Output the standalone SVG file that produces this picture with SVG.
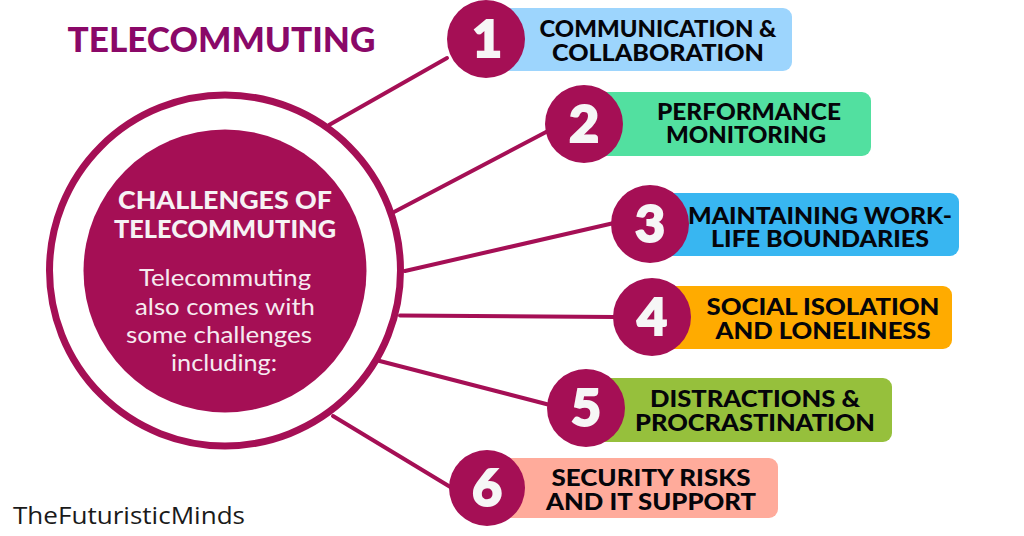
<svg xmlns="http://www.w3.org/2000/svg" width="1024" height="536" viewBox="0 0 1024 536">
<style>
text{font-family:"Lato","Open Sans","Liberation Sans",sans-serif;text-anchor:middle}
.n{fill:#a50f55}
.num{font-size:52px;font-weight:900;fill:#f6f6f6;stroke:#f6f6f6;stroke-width:2}
.b{font-size:23.5px;font-weight:900;fill:#05050a}
.c{fill:none;stroke:#a50f55;stroke-width:4;stroke-linecap:round}
.h{font-size:25px;font-weight:900;fill:#f6f2f4}
.p{font-size:24px;font-weight:400;fill:#f6eaf0}
</style>
<rect width="1024" height="536" fill="#fff"/>
<g id="connectors">
<line class="c" x1="329" y1="125" x2="447" y2="58"/>
<line class="c" x1="394" y1="212" x2="548" y2="131"/>
<line class="c" x1="405" y1="271" x2="614" y2="223"/>
<line class="c" x1="400" y1="315.500" x2="615" y2="317"/>
<line class="c" x1="372" y1="359" x2="550" y2="405"/>
<line class="c" x1="333" y1="416" x2="452" y2="488"/>
</g>
<g id="hub">
<circle cx="225" cy="270.500" r="175.500" fill="#fff" stroke="#a50f55" stroke-width="7"/>
<circle class="n" cx="225" cy="271" r="141.500"/>
<text class="h" x="225" y="209" textLength="214" lengthAdjust="spacingAndGlyphs">CHALLENGES OF</text>
<text class="h" x="225" y="238" textLength="222" lengthAdjust="spacingAndGlyphs">TELECOMMUTING</text>
<text class="p" x="225" y="286" textLength="172" lengthAdjust="spacingAndGlyphs">Telecommuting</text>
<text class="p" x="225" y="315" textLength="180" lengthAdjust="spacingAndGlyphs">also comes with</text>
<text class="p" x="219" y="343" textLength="186" lengthAdjust="spacingAndGlyphs">some challenges</text>
<text class="p" x="224" y="371" textLength="106" lengthAdjust="spacingAndGlyphs">including:</text>
</g>
<g id="title"><text x="221.500" y="52" font-size="35" font-weight="900" fill="#8a0868" textLength="308" lengthAdjust="spacingAndGlyphs">TELECOMMUTING</text></g>
<g id="brand"><text x="129" y="524" font-size="24" fill="#1a1a1a" style="font-family:'Open Sans',sans-serif" textLength="232" lengthAdjust="spacingAndGlyphs">TheFuturisticMinds</text></g>
<g id="node1">
<rect x="490" y="8" width="302" height="63" rx="9" fill="#9dd5fd"/>
<circle class="n" cx="486" cy="39" r="39"/>
<text class="num" x="487" y="57">1</text>
<text class="b" x="658" y="37" textLength="237" lengthAdjust="spacingAndGlyphs">COMMUNICATION &amp;</text>
<text class="b" x="658" y="61" textLength="212" lengthAdjust="spacingAndGlyphs">COLLABORATION</text>
</g>
<g id="node2">
<rect x="590" y="92" width="281" height="64" rx="9" fill="#52e0a0"/>
<circle class="n" cx="584" cy="124" r="39"/>
<text class="num" x="584" y="142">2</text>
<text class="b" x="749" y="120" textLength="184" lengthAdjust="spacingAndGlyphs">PERFORMANCE</text>
<text class="b" x="746" y="143" textLength="160" lengthAdjust="spacingAndGlyphs">MONITORING</text>
</g>
<g id="node3">
<rect x="655" y="193" width="304" height="63" rx="9" fill="#38b6f1"/>
<circle class="n" cx="650" cy="224" r="39"/>
<text class="num" x="650" y="242">3</text>
<text class="b" x="820" y="223.500" textLength="264" lengthAdjust="spacingAndGlyphs">MAINTAINING WORK-</text>
<text class="b" x="820" y="246.500" textLength="218" lengthAdjust="spacingAndGlyphs">LIFE BOUNDARIES</text>
</g>
<g id="node4">
<rect x="660" y="286" width="292" height="63" rx="9" fill="#ffab00"/>
<circle class="n" cx="652" cy="317" r="39"/>
<text class="num" x="652" y="335">4</text>
<text class="b" x="823" y="315" textLength="233" lengthAdjust="spacingAndGlyphs">SOCIAL ISOLATION</text>
<text class="b" x="823" y="339" textLength="215" lengthAdjust="spacingAndGlyphs">AND LONELINESS</text>
</g>
<g id="node5">
<rect x="592" y="378" width="300" height="64" rx="9" fill="#96c03c"/>
<circle class="n" cx="586" cy="408" r="39"/>
<text class="num" x="586" y="426">5</text>
<text class="b" x="755" y="407" textLength="210" lengthAdjust="spacingAndGlyphs">DISTRACTIONS &amp;</text>
<text class="b" x="755" y="431" textLength="240" lengthAdjust="spacingAndGlyphs">PROCRASTINATION</text>
</g>
<g id="node6">
<rect x="492" y="458" width="286" height="60" rx="9" fill="#ffab9b"/>
<circle class="n" cx="487" cy="488" r="38"/>
<text class="num" x="487" y="506">6</text>
<text class="b" x="651" y="486" textLength="199" lengthAdjust="spacingAndGlyphs">SECURITY RISKS</text>
<text class="b" x="651" y="510" textLength="210" lengthAdjust="spacingAndGlyphs">AND IT SUPPORT</text>
</g>
</svg>
